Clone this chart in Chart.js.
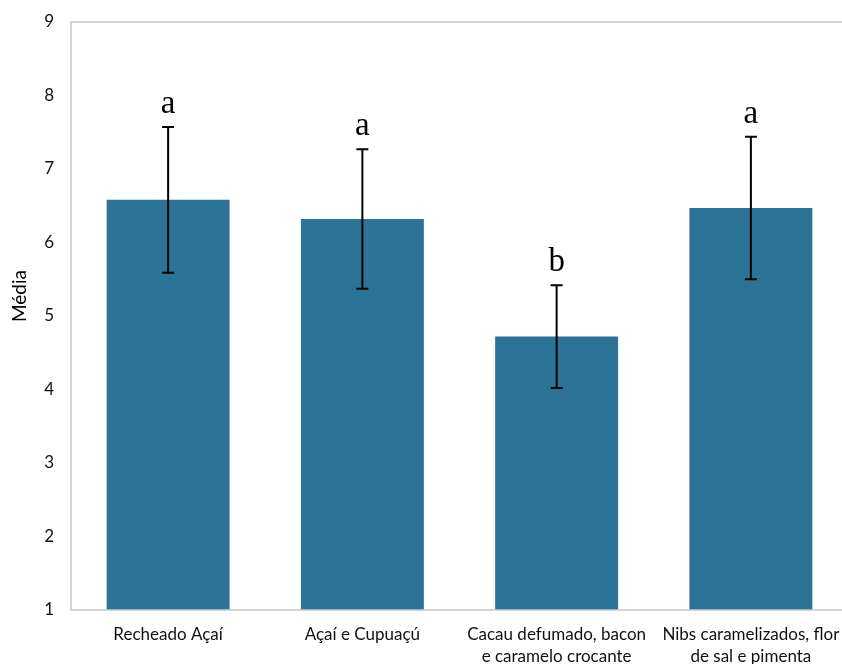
<!DOCTYPE html>
<html>
<head>
<meta charset="utf-8">
<script src="https://cdn.jsdelivr.net/npm/chart.js@4.4.1/dist/chart.umd.min.js"></script>
<style>
  html, body { margin: 0; padding: 0; background: #fff; overflow: hidden; width: 842px; height: 664px; }
  #wrap { width: 860px; height: 664px; }
</style>
</head>
<body>
<div id="wrap"><canvas id="c" width="860" height="664" style="width:860px;height:664px"></canvas></div>
<script>
const categories = [
  "Recheado Açaí",
  "Açaí e Cupuaçú",
  ["Cacau defumado, bacon", "e caramelo crocante"],
  ["Nibs caramelizados, flor", "de sal e pimenta"]
];
const means = [6.58, 6.32, 4.72, 6.47];
const errors = [0.99, 0.95, 0.70, 0.97];
const letters = ["a", "a", "b", "a"];
const yTicks = [1, 2, 3, 4, 5, 6, 7, 8, 9];
const yTitle = "Média";

const extras = {
  id: 'extras',
  afterDatasetsDraw(chart) {
    const ctx = chart.ctx;
    const y = chart.scales.y;
    const meta = chart.getDatasetMeta(0);
    const ca = chart.chartArea;
    ctx.save();
    // frame
    ctx.strokeStyle = '#c8c8c8';
    ctx.lineWidth = 1.5;
    ctx.strokeRect(ca.left, ca.top, ca.right - ca.left, ca.bottom - ca.top);
    // error bars
    ctx.strokeStyle = '#000';
    ctx.lineWidth = 2;
    meta.data.forEach((bar, i) => {
      const x = bar.x;
      const yt = y.getPixelForValue(means[i] + errors[i]);
      const yb = y.getPixelForValue(means[i] - errors[i]);
      ctx.beginPath();
      ctx.moveTo(x, yt); ctx.lineTo(x, yb);
      ctx.moveTo(x - 6, yt); ctx.lineTo(x + 6, yt);
      ctx.moveTo(x - 6, yb); ctx.lineTo(x + 6, yb);
      ctx.stroke();
      // letters
      ctx.fillStyle = '#000';
      ctx.font = '33px "Liberation Serif", "Times New Roman", serif';
      ctx.textAlign = 'center';
      ctx.textBaseline = 'alphabetic';
      ctx.fillText(letters[i], x, yt - 14);
    });
    // y title
    ctx.translate(20, 296);
    ctx.rotate(-Math.PI / 2);
    ctx.font = '19px Lato, "Open Sans", sans-serif';
    ctx.fillStyle = '#000';
    ctx.textAlign = 'center';
    ctx.textBaseline = 'middle';
    ctx.fillText(yTitle, 0, 0);
    ctx.restore();
  }
};

new Chart(document.getElementById('c'), {
  type: 'bar',
  data: {
    labels: categories,
    datasets: [{
      data: means,
      base: 1,
      backgroundColor: '#2c7497',
      borderWidth: 0,
      categoryPercentage: 1,
      barPercentage: 0.633
    }]
  },
  options: {
    responsive: false,
    maintainAspectRatio: false,
    animation: false,
    devicePixelRatio: 1,
    layout: { padding: { top: 22, right: 12, left: 0, bottom: 0 } },
    plugins: { legend: { display: false }, tooltip: { enabled: false } },
    scales: {
      x: {
        grid: { display: false, drawTicks: false },
        border: { display: false },
        ticks: {
          color: '#111',
          font: { family: 'Lato, "Open Sans", sans-serif', size: 17, lineHeight: 1.3 },
          padding: 13,
          maxRotation: 0,
          autoSkip: false
        },
        afterFit(s) { s.height = 54; s.paddingLeft = 0; s.paddingRight = 0; }
      },
      y: {
        min: 1, max: 9,
        afterBuildTicks(s) { s.ticks = yTicks.map(v => ({ value: v })); },
        grid: { display: false, drawTicks: false },
        border: { display: false },
        ticks: {
          color: '#111',
          font: { family: 'Lato, "Open Sans", sans-serif', size: 17 },
          padding: 17
        },
        afterFit(s) { s.width = 71; s.paddingTop = 0; s.paddingBottom = 0; }
      }
    }
  },
  plugins: [extras]
});
</script>
</body>
</html>
